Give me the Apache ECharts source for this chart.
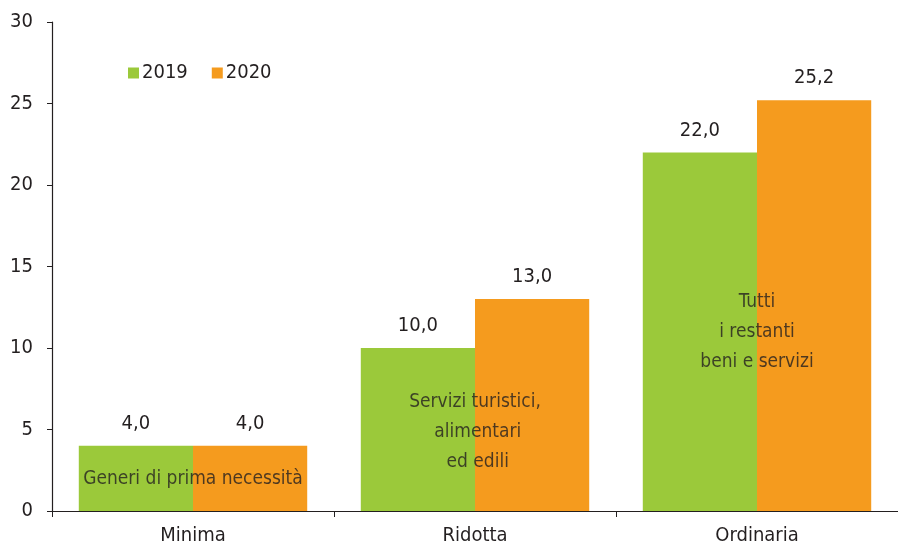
<!DOCTYPE html>
<html>
<head>
<meta charset="utf-8">
<script src="https://cdn.jsdelivr.net/npm/echarts@6/dist/echarts.min.js"></script>
<style>html,body{margin:0;padding:0;background:#fff}#c{width:898px;height:546px}</style>
</head>
<body>
<div id="c"></div>
<script>
var categories = ['Minima', 'Ridotta', 'Ordinaria'];
var values2019 = [4.0, 10.0, 22.0];
var values2020 = [4.0, 13.0, 25.2];
var seriesNames = ['2019', '2020'];
var notes = ['Generi di prima necessità', 'Servizi turistici,\n alimentari\n ed edili', 'Tutti\ni restanti\nbeni e servizi'];
var notePositions = [1.95, 4.85, 11.0];

var FONT = '"DejaVu Sans Condensed", "Liberation Sans Narrow", sans-serif';
var FS = 20;
var TXT = '#231f20';
var chart = echarts.init(document.getElementById('c'));
function fmt(p){ return p.value.toFixed(1).replace('.', ','); }
chart.setOption({
  animation: false,
  textStyle: { fontFamily: FONT },
  grid: { left: 52, right: 0, top: 22, bottom: 34, containLabel: false },
  legend: {
    data: seriesNames,
    left: 123, top: 58,
    itemWidth: 11, itemHeight: 11, itemGap: 24,
    icon: 'rect',
    textStyle: { fontFamily: FONT, fontSize: FS, color: TXT, padding: [0,0,0,-2] }
  },
  xAxis: {
    type: 'category',
    data: categories,
    axisLine: { lineStyle: { color: '#231f20', width: 1.2 } },
    axisTick: { show: true, length: 6, lineStyle: { color: '#231f20' } },
    axisLabel: { fontFamily: FONT, fontSize: FS, color: TXT, margin: 15 }
  },
  yAxis: {
    type: 'value', min: 0, max: 30, interval: 5,
    axisLine: { show: true, lineStyle: { color: '#231f20', width: 1.2 } },
    axisTick: { show: true, length: 5, lineStyle: { color: '#231f20' } },
    splitLine: { show: false },
    axisLabel: { fontFamily: FONT, fontSize: FS, color: TXT, margin: 19 }
  },
  series: [
    {
      name: seriesNames[0], type: 'bar', data: values2019,
      barGap: '0%', barCategoryGap: '19%',
      itemStyle: { color: '#9bc93a' },
      label: { show: true, position: 'top', distance: 12, formatter: fmt, fontFamily: FONT, fontSize: FS, color: TXT }
    },
    {
      name: seriesNames[1], type: 'bar', data: values2020,
      barGap: '0%', barCategoryGap: '19%',
      itemStyle: { color: '#f59b1e' },
      label: { show: true, position: 'top', distance: 12, formatter: fmt, fontFamily: FONT, fontSize: FS, color: TXT }
    },
    {
      name: 'note', type: 'scatter', symbolSize: 0, silent: true,
      data: categories.map(function(c, i){ return [i, notePositions[i]]; }),
      label: {
        show: true, position: 'inside',
        formatter: function(p){ return notes[p.dataIndex]; },
        fontFamily: FONT, fontSize: 19, color: TXT, lineHeight: 30, align: 'center'
      },
      z: 10
    }
  ]
});
</script>
</body>
</html>
